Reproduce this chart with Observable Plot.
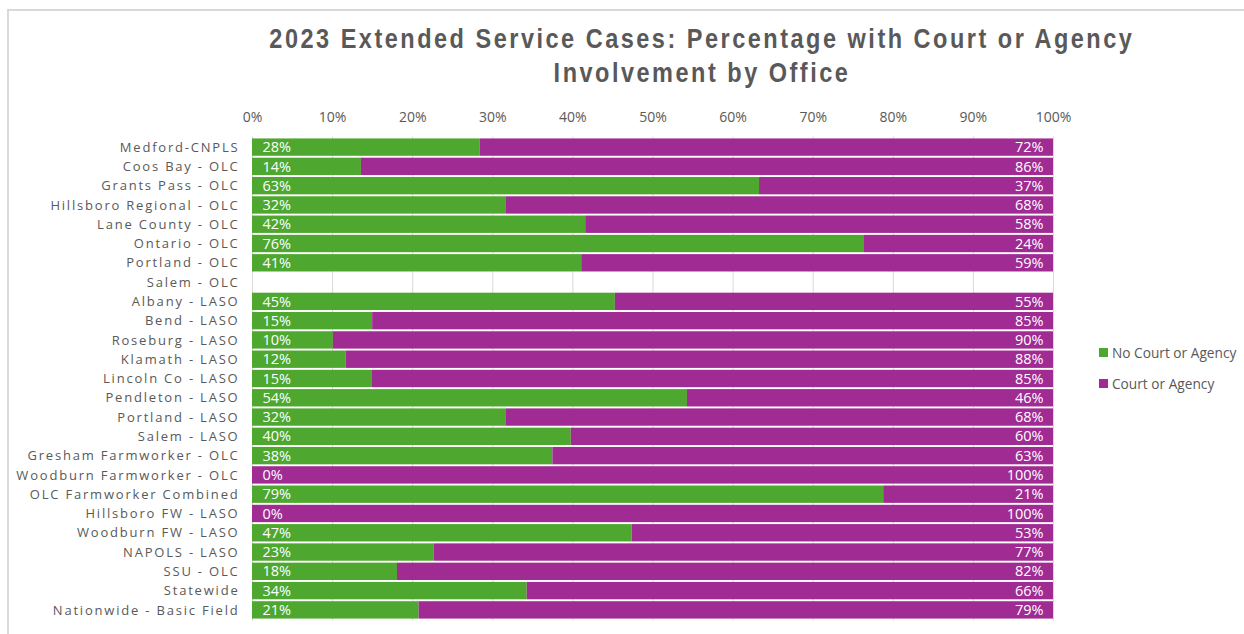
<!DOCTYPE html>
<html>
<head>
<meta charset="utf-8">
<script src="https://cdn.jsdelivr.net/npm/d3@7"></script>
<script src="https://cdn.jsdelivr.net/npm/@observablehq/plot@0.6"></script>
<style>
  html, body { margin: 0; padding: 0; background: #fff; }
  #wrap { position: relative; width: 1244px; height: 634px; overflow: hidden; font-family: "Open Sans", sans-serif; }
  #border { position: absolute; left: 7px; top: 9px; width: 1300px; height: 700px; border-left: 2px solid #d9d9d9; border-top: 2px solid #d9d9d9; box-sizing: border-box; }
  #title { position: absolute; left: -98px; width: 1600px; top: 21.5px; text-align: center; font-family: "Liberation Sans", sans-serif; font-weight: bold; font-size: 28px; line-height: 34.5px; letter-spacing: 3px; color: #595959; }
  #title .line { white-space: nowrap; }
  #title .line span { display: inline-block; transform-origin: center; }
  #chart { position: absolute; left: 0; top: 100px; line-height: 0; }
  #legend { position: absolute; left: 1099px; top: 343px; font-family: "Open Sans", sans-serif; font-size: 13.7px; color: #595959; }
  #legend .item { display: flex; align-items: center; height: 18px; margin-bottom: 13px; white-space: nowrap; }
  #legend .sw { width: 9px; height: 9px; margin-right: 4px; }
  #chart svg g[aria-label="y-axis tick label"] text { letter-spacing: 1.8px; }
</style>
</head>
<body>
<div id="wrap">
  <div id="border"></div>
  <div id="title"></div>
  <div id="chart"></div>
  <div id="legend"></div>
</div>
<script>
const titleText = ["2023 Extended Service Cases: Percentage with Court or Agency", "Involvement by Office"];
const offices = [
  "Medford-CNPLS", "Coos Bay - OLC", "Grants Pass - OLC", "Hillsboro Regional - OLC",
  "Lane County - OLC", "Ontario - OLC", "Portland - OLC", "Salem - OLC",
  "Albany - LASO", "Bend - LASO", "Roseburg - LASO", "Klamath - LASO",
  "Lincoln Co - LASO", "Pendleton - LASO", "Portland - LASO", "Salem - LASO",
  "Gresham Farmworker - OLC", "Woodburn Farmworker - OLC", "OLC Farmworker Combined",
  "Hillsboro FW - LASO", "Woodburn FW - LASO", "NAPOLS - LASO", "SSU - OLC",
  "Statewide", "Nationwide - Basic Field"
];
const seriesNames = ["No Court or Agency", "Court or Agency"];
const seriesColors = ["#4EA72E", "#A02B93"];
const noCourt = [28.4, 13.6, 63.3, 31.7, 41.6, 76.4, 41.1, null, 45.3, 15.0, 10.1, 11.7, 14.9, 54.3, 31.7, 39.8, 37.5, 0, 78.8, 0, 47.4, 22.7, 18.1, 34.3, 20.8];
const court   = [71.6, 86.4, 36.7, 68.3, 58.4, 23.6, 58.9, null, 54.7, 85.0, 89.9, 88.3, 85.1, 45.7, 68.3, 60.2, 62.5, 100, 21.2, 100, 52.6, 77.3, 81.9, 65.7, 79.2];
const xTicks = [0, 10, 20, 30, 40, 50, 60, 70, 80, 90, 100];

// Title: one line each, compressed horizontally to the reference width
const titleEl = document.getElementById("title");
titleEl.innerHTML = titleText.map(t => `<div class="line"><span>${t}</span></div>`).join("");
const spans = titleEl.querySelectorAll(".line span");
const targetW = 865;
const s = targetW / spans[0].getBoundingClientRect().width;
spans.forEach(sp => sp.style.transform = `scaleX(${s})`);

document.getElementById("legend").innerHTML = seriesNames.map((n, i) =>
  `<div class="item"><div class="sw" style="background:${seriesColors[i]}"></div>${n}</div>`).join("");

const rows = [];
offices.forEach((o, i) => {
  if (noCourt[i] != null) rows.push({office: o, series: seriesNames[0], value: noCourt[i]});
  if (court[i] != null) rows.push({office: o, series: seriesNames[1], value: court[i]});
});
const greenRows = rows.filter(d => d.series === seriesNames[0]);
const purpleRows = rows.filter(d => d.series === seriesNames[1]);
const fmt = v => Math.round(v) + "%";

const chart = Plot.plot({
  width: 1244,
  height: 534,
  marginTop: 36.5,
  marginBottom: 13.5,
  marginLeft: 252,
  marginRight: 191,
  style: { fontFamily: "Open Sans, sans-serif", fontSize: "13px", color: "#595959", background: "transparent" },
  x: { domain: [0, 100], axis: null, label: null },
  y: { domain: offices, padding: 0.1, round: false, tickSize: 0, tickPadding: 13, label: null },
  color: { domain: seriesNames, range: seriesColors },
  marks: [
    Plot.gridX(xTicks, { stroke: "#d9d9d9", strokeOpacity: 1, strokeWidth: 1 }),
    Plot.barX(rows, Plot.stackX({ x: "value", y: "office", fill: "series", order: seriesNames })),
    Plot.axisX(xTicks, { anchor: "top", tickFormat: d => d + "%", tickSize: 0, tickPadding: 15, fontSize: 14, label: null }),
    Plot.text(greenRows, { y: "office", text: d => fmt(d.value), frameAnchor: "left", textAnchor: "start", dx: 10, fill: "#ffffff", fontSize: 14.5 }),
    Plot.text(purpleRows, { y: "office", text: d => fmt(d.value), frameAnchor: "right", textAnchor: "end", dx: -10, fill: "#ffffff", fontSize: 14.5 })
  ]
});
document.getElementById("chart").appendChild(chart);
</script>
</body>
</html>
